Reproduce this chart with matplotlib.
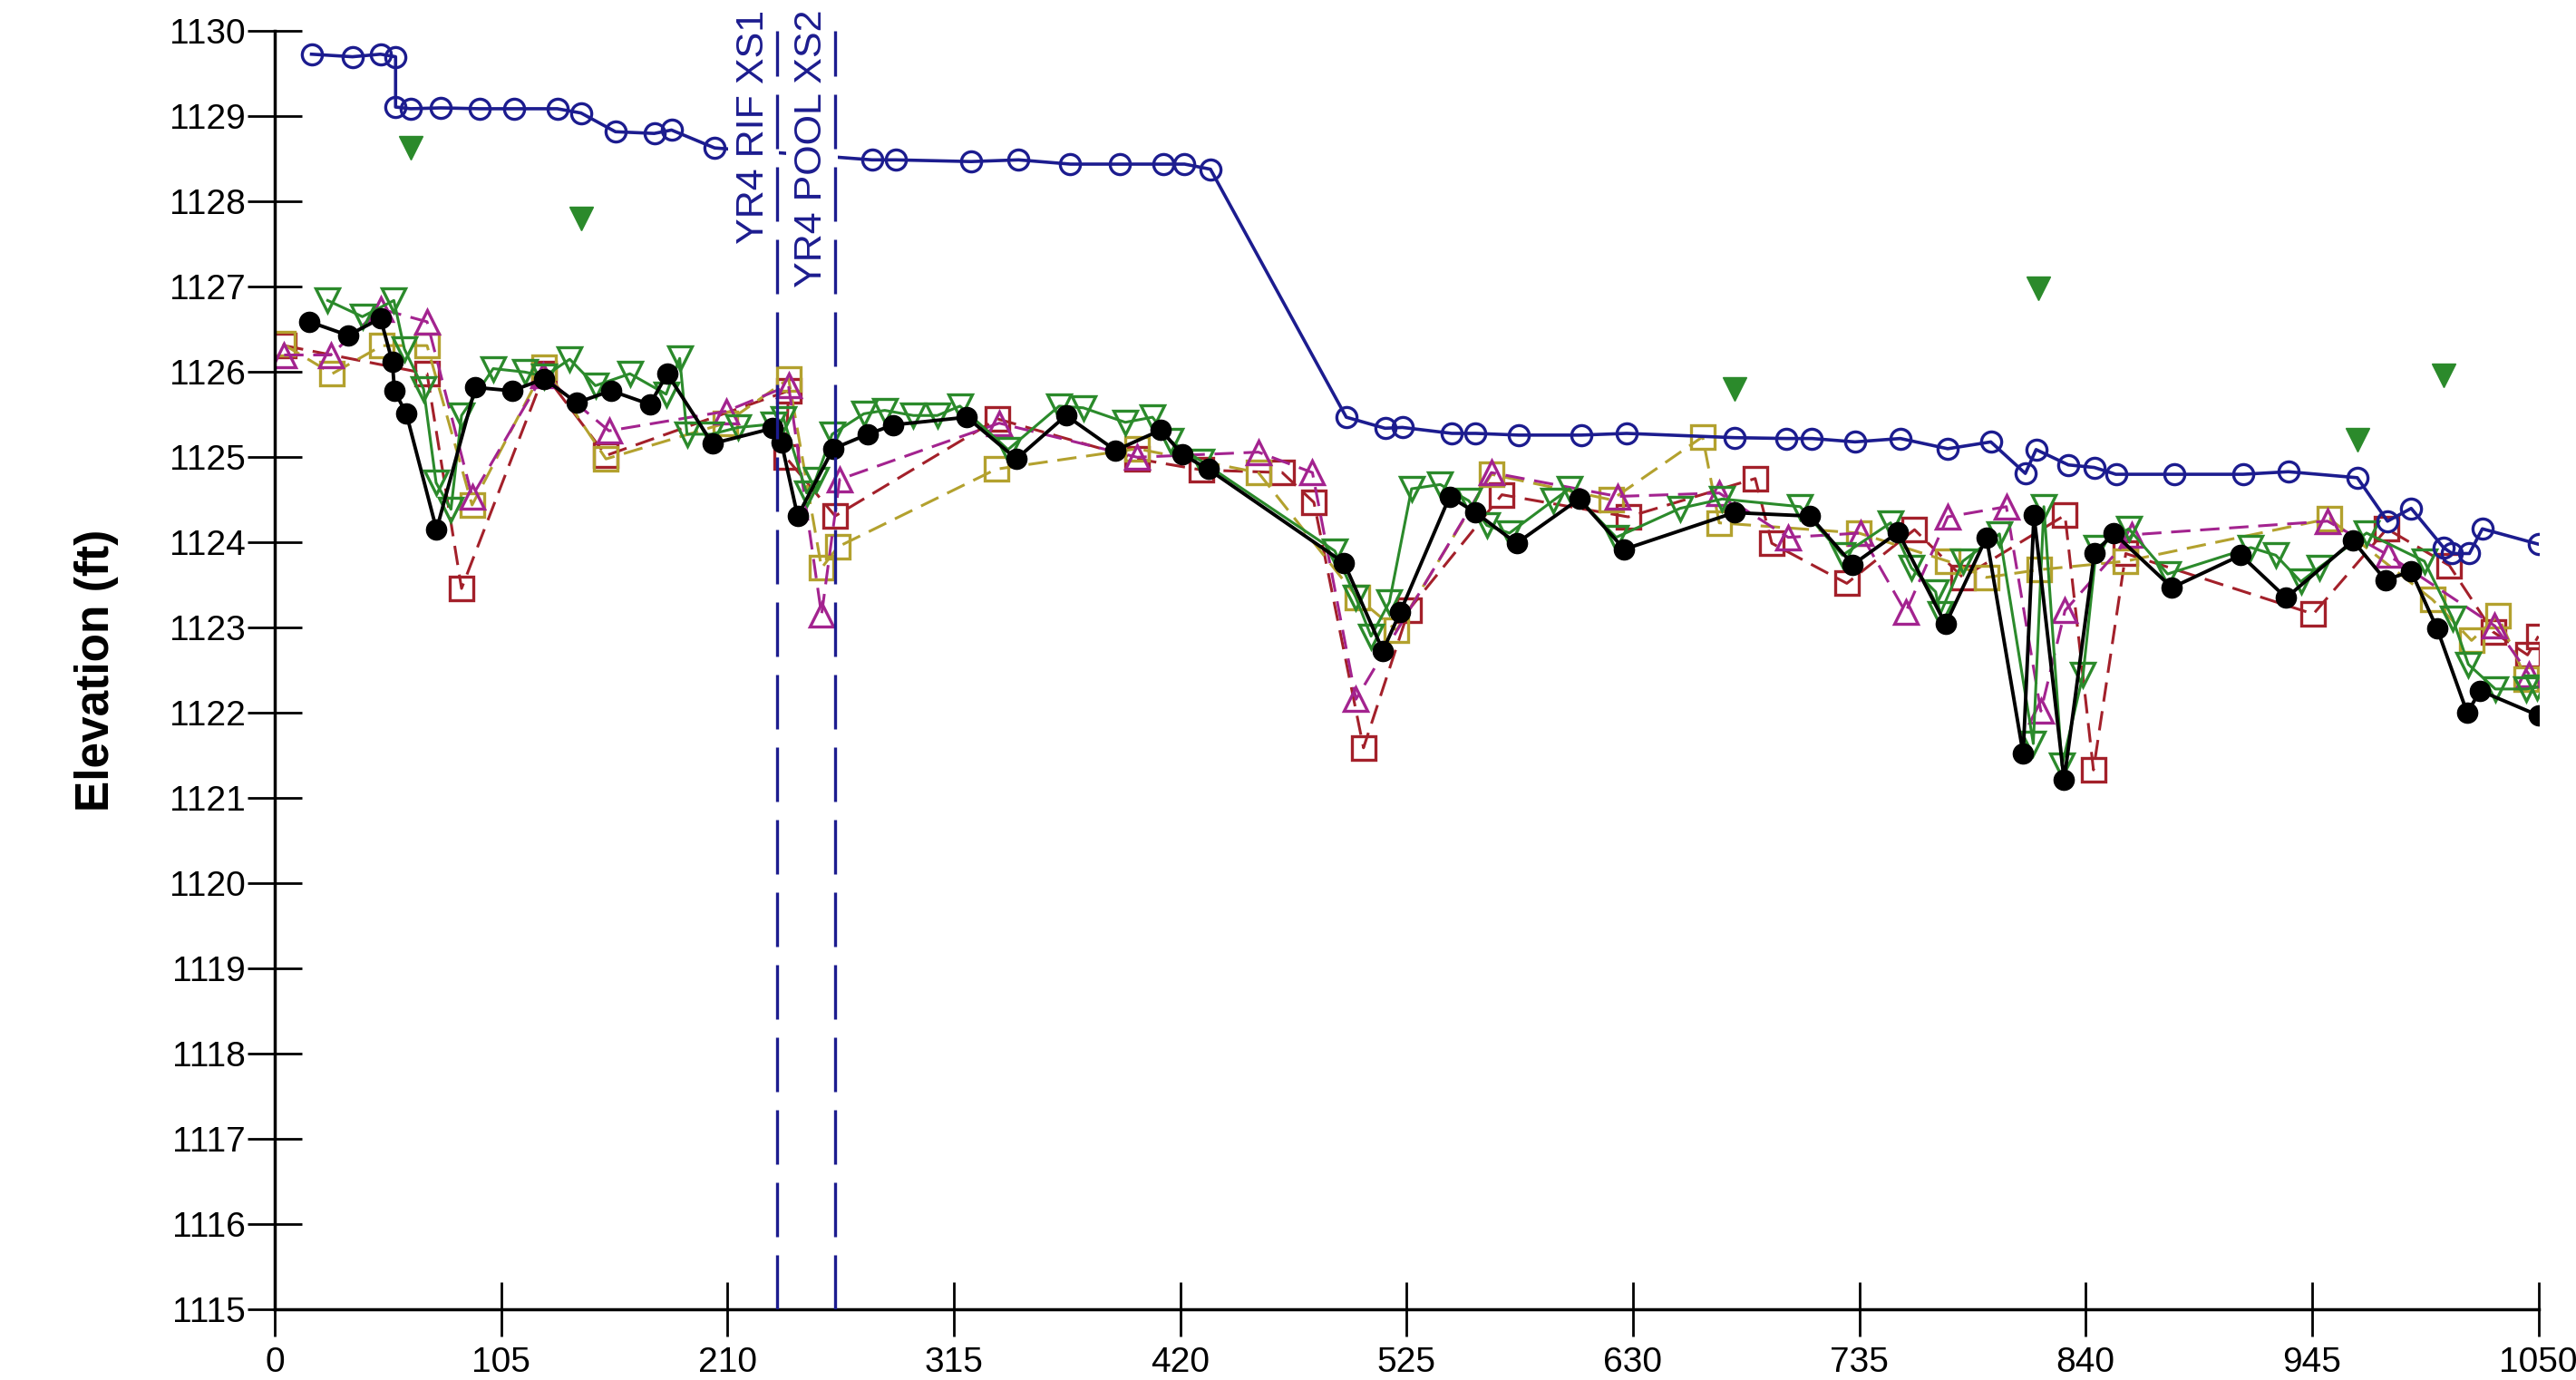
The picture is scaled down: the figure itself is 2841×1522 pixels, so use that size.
import numpy as np
import matplotlib
matplotlib.use('Agg')
import matplotlib.pyplot as plt

plt.rcParams['font.family'] = ['Liberation Sans', 'DejaVu Sans']

# top of bank / ground line (blue, open circles)
blue_x = [17, 36, 49, 56, 56, 63, 77, 95, 111, 131, 142, 158, 176, 184, 204, 277, 288, 323, 345, 369,
          392, 412, 422, 434, 497, 515, 523, 546, 557, 577, 606, 627, 677, 701, 713, 733, 754, 776,
          796, 812, 817, 832, 844, 854, 881, 913, 934, 966, 980, 991, 1006, 1010, 1018, 1024, 1050]
blue_y = [1129.73, 1129.70, 1129.73, 1129.70, 1129.11, 1129.09, 1129.10, 1129.09, 1129.09, 1129.09,
          1129.04, 1128.82, 1128.80, 1128.84, 1128.63, 1128.49, 1128.49, 1128.47, 1128.49, 1128.44,
          1128.44, 1128.44, 1128.44, 1128.38, 1125.47, 1125.34, 1125.35, 1125.28, 1125.28, 1125.26,
          1125.26, 1125.28, 1125.23, 1125.22, 1125.22, 1125.18, 1125.22, 1125.10, 1125.18, 1124.81,
          1125.09, 1124.91, 1124.88, 1124.80, 1124.80, 1124.80, 1124.83, 1124.76, 1124.25, 1124.40,
          1123.94, 1123.87, 1123.87, 1124.16, 1123.98]

# water surface marks
ws_x = [63, 142, 677, 818, 966, 1006]
ws_y = [1128.63, 1127.80, 1125.80, 1126.98, 1125.20, 1125.96]

# black, filled circles
blk_x = [16, 34, 49, 54.5, 55.5, 61, 75, 93, 110, 125, 140, 156, 174, 182, 203, 231, 235, 242.5, 259,
         275, 287, 321, 344, 367, 390, 411, 421, 433, 496, 514, 522, 545, 557, 576, 605, 626, 677, 712,
         732, 753, 775, 794, 811, 816, 830, 844, 853, 880, 912, 933, 964, 979, 991, 1003, 1017, 1023, 1050]
blk_y = [1126.59, 1126.43, 1126.63, 1126.12, 1125.78, 1125.51, 1124.15, 1125.82, 1125.78, 1125.92,
         1125.64, 1125.78, 1125.62, 1125.98, 1125.16, 1125.34, 1125.17, 1124.31, 1125.10, 1125.27,
         1125.38, 1125.47, 1124.98, 1125.49, 1125.08, 1125.32, 1125.03, 1124.86, 1123.76, 1122.73,
         1123.18, 1124.54, 1124.35, 1123.99, 1124.51, 1123.92, 1124.35, 1124.31, 1123.74, 1124.12,
         1123.04, 1124.06, 1121.52, 1124.32, 1121.21, 1123.87, 1124.11, 1123.47, 1123.85, 1123.35,
         1124.02, 1123.56, 1123.66, 1122.99, 1122.00, 1122.26, 1121.97]

# green, open down triangles
grn_x = [24.5, 40.6, 55.2, 60.1, 69, 74.8, 81.7, 86.6, 101.3, 115.9, 125, 136.8, 148.7, 164.7, 181.5,
         187.8, 191.2, 202.4, 215, 231.3, 236, 246.7, 250.9, 258.5, 273.2, 282.9, 296.2, 307.3, 317.8,
         340.1, 363.8, 375, 394.5, 407.1, 415.5, 430, 491.7, 501.5, 508.5, 517, 527.3, 540.6, 553.8,
         562.2, 572.7, 592.9, 600.5, 622.2, 651.8, 671.4, 707.6, 727.2, 749.5, 759.2, 770.4, 772.5, 783,
         800, 815.7, 820.6, 829, 838.8, 845, 860, 878, 916.6, 928.2, 939.8, 948.5, 970.3, 997.1, 1010.2,
         1017.5, 1030, 1044.3, 1049.4]
grn_y = [1126.84, 1126.65, 1126.84, 1126.27, 1125.80, 1124.70, 1124.39, 1125.49, 1126.04, 1126.00,
         1125.95, 1126.15, 1125.84, 1125.98, 1125.74, 1126.16, 1125.27, 1125.27, 1125.35, 1125.39,
         1125.45, 1124.58, 1124.74, 1125.27, 1125.51, 1125.55, 1125.49, 1125.49, 1125.60, 1125.09,
         1125.60, 1125.58, 1125.41, 1125.47, 1125.19, 1124.95, 1123.90, 1123.35, 1122.90, 1123.30,
         1124.63, 1124.68, 1124.49, 1124.20, 1124.11, 1124.49, 1124.63, 1124.06, 1124.40, 1124.51,
         1124.42, 1123.85, 1124.23, 1123.70, 1123.42, 1123.16, 1123.78, 1124.10, 1121.64, 1124.42,
         1121.38, 1122.45, 1123.94, 1124.16, 1123.63, 1123.94, 1123.85, 1123.54, 1123.71, 1124.11,
         1123.78, 1123.11, 1122.57, 1122.28, 1122.28, 1122.30]

# magenta, open up triangles
mag_x = [4.3, 25.9, 49, 70.6, 91.5, 124.3, 155, 209.4, 238.3, 253.6, 262, 336, 400, 456.2, 481.3, 501.5,
         564.3, 622.9, 670, 702, 735.5, 756.5, 776, 803.2, 819.2, 830.4, 861.5, 952.2, 980.4, 1029.8, 1045.7]
mag_y = [1126.20, 1126.20, 1126.74, 1126.59, 1124.54, 1125.96, 1125.31, 1125.54, 1125.84, 1123.15,
         1124.74, 1125.40, 1125.00, 1125.06, 1124.82, 1122.16, 1124.82, 1124.54, 1124.58, 1124.06,
         1124.11, 1123.18, 1124.30, 1124.42, 1122.02, 1123.20, 1124.09, 1124.25, 1123.85, 1123.02, 1122.45]

# olive, open squares
olv_x = [3.6, 26.6, 49.7, 70.6, 91.5, 125, 153.6, 209, 238.3, 253.6, 261.3, 334.6, 400, 456.2, 502.2,
         520.3, 564.3, 620, 662.3, 670, 734.8, 776, 794, 818.5, 858.6, 953, 1000.8, 1019, 1031.2, 1044.3]
olv_y = [1126.33, 1125.98, 1126.31, 1126.31, 1124.44, 1126.06, 1124.98, 1125.40, 1125.92, 1123.70,
         1123.95, 1124.86, 1125.10, 1124.82, 1123.35, 1122.97, 1124.80, 1124.50, 1125.24, 1124.23,
         1124.11, 1123.78, 1123.59, 1123.68, 1123.78, 1124.28, 1123.33, 1122.85, 1123.14, 1122.40]

# dark red, open squares
red_x = [4.3, 70.6, 86.6, 125, 153.6, 238.3, 237, 259.9, 335.2, 400.1, 430, 467.3, 482, 505, 526, 569.2,
         627.8, 686.7, 694.4, 729.2, 760.6, 783, 830.4, 843.6, 858.6, 945.6, 979.7, 1008.7, 1029, 1045, 1050]
red_y = [1126.31, 1125.98, 1123.46, 1125.98, 1125.02, 1125.78, 1125.00, 1124.31, 1125.45, 1124.98,
         1124.85, 1124.82, 1124.47, 1121.59, 1123.21, 1124.56, 1124.30, 1124.75, 1123.99, 1123.52,
         1124.15, 1123.59, 1124.32, 1121.33, 1123.87, 1123.16, 1124.16, 1123.73, 1122.95, 1122.68, 1122.90]

xs_pos = [233, 260]
xs_names = ['YR4 RIF XS1', 'YR4 POOL XS2']

navy = '#1c1c8f'
green = '#2b8a2b'
magenta = '#a3238f'
olive = '#b3a12e'
dred = '#a3202a'

fig = plt.figure(figsize=(28.41, 15.22), dpi=100)
ax = fig.add_axes([0.1067, 0.0512, 0.8787, 0.9262])

dash = (0, (7, 3.5))
ax.plot(red_x, red_y, color=dred, lw=2.2, ls=dash, marker='s', ms=19, mfc='none', mec=dred, mew=2.4)
ax.plot(olv_x, olv_y, color=olive, lw=2.2, ls=dash, marker='s', ms=19, mfc='none', mec=olive, mew=2.4)
ax.plot(mag_x, mag_y, color=magenta, lw=2.2, ls=dash, marker='^', ms=19, mfc='none', mec=magenta, mew=2.4)
ax.plot(grn_x, grn_y, color=green, lw=2.2, marker='v', ms=19, mfc='none', mec=green, mew=2.4)
ax.plot(blk_x, blk_y, color='black', lw=2.8, marker='o', ms=16, mfc='black', mec='black')
ax.plot(blue_x, blue_y, color=navy, lw=2.6, marker='o', ms=16, mfc='none', mec=navy, mew=2.4)
ax.plot(ws_x, ws_y, ls='none', marker='v', ms=19, color=green)

for xp, name in zip(xs_pos, xs_names):
    ax.plot([xp, xp], [1115, 1130], color=navy, lw=2.4, ls=(0, (18, 6)), zorder=7)
    ax.text(xp - 2.5, 1130.25, name, rotation=90, ha='right', va='top', color=navy, fontsize=31,
            bbox=dict(facecolor='white', edgecolor='none', pad=6), zorder=6, clip_on=False)

ax.set_xlim(0, 1050)
ax.set_ylim(1115, 1130)
ax.set_xticks(np.arange(0, 1051, 105))
ax.set_yticks(np.arange(1115, 1131, 1))
ax.spines['top'].set_visible(False)
ax.spines['right'].set_visible(False)
ax.spines['left'].set_linewidth(2.5)
ax.spines['bottom'].set_linewidth(2.5)
ax.tick_params(axis='both', direction='inout', length=43, width=2, labelsize=28)
ax.tick_params(axis='y', pad=2)
ax.tick_params(axis='x', pad=8)
ax.set_ylabel('Elevation (ft)', fontsize=37, fontweight='bold', labelpad=40)

fig.savefig('out.png', dpi=100)
